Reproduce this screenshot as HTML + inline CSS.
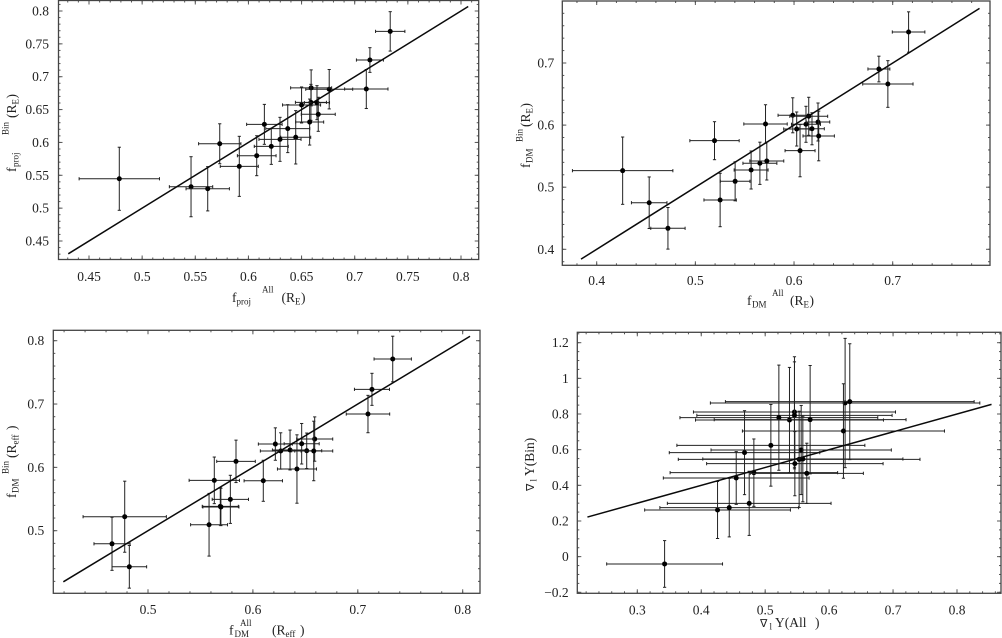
<!DOCTYPE html>
<html>
<head>
<meta charset="utf-8">
<title>Bin vs All comparison panels</title>
<style>
html,body{margin:0;padding:0;background:#fff;}
#figure{display:block;width:1002px;height:638px;background:#fff;}
text{font-family:"Liberation Serif","DejaVu Serif",serif;fill:#222;font-size:13.5px;}
.s{font-size:9px;}
.frame{fill:none;stroke:#444;stroke-width:1.3;}
.tick{stroke:#555;stroke-width:1;}
.err{stroke:#222;stroke-width:1;fill:none;}
.pt{fill:#000;}
.fit{stroke:#0a0a0a;stroke-width:1.5;fill:none;}
</style>
</head>
<body>
<svg id="figure" xmlns="http://www.w3.org/2000/svg" width="1002" height="638" viewBox="0 0 1002 638">
  <rect x="0" y="0" width="1002" height="638" fill="#fff"/>

  <text><tspan x="232" y="302">f</tspan><tspan class="s" x="236.5" y="304.5">proj</tspan><tspan class="s" x="262" y="292.5">All</tspan><tspan x="281.5" y="302">(R</tspan><tspan class="s" x="295" y="304.5">E</tspan><tspan x="301" y="302">)</tspan></text>
  <g transform="translate(16,172) rotate(-90)"><text><tspan x="0" y="0">f</tspan><tspan class="s" x="5" y="2.5">proj</tspan><tspan class="s" x="37" y="-7.5">Bin</tspan><tspan x="54" y="0">(R</tspan><tspan class="s" x="67.5" y="2.5">E</tspan><tspan x="73.5" y="0">)</tspan></text></g>

  <text><tspan x="747" y="305">f</tspan><tspan class="s" x="752" y="307.5">DM</tspan><tspan class="s" x="772" y="296">All</tspan><tspan x="790" y="305">(R</tspan><tspan class="s" x="803.5" y="307.5">E</tspan><tspan x="809.5" y="305">)</tspan></text>
  <g transform="translate(530,168) rotate(-90)"><text><tspan x="0" y="0">f</tspan><tspan class="s" x="5" y="2.5">DM</tspan><tspan class="s" x="26" y="-7.5">Bin</tspan><tspan x="41" y="0">(R</tspan><tspan class="s" x="54.5" y="2.5">E</tspan><tspan x="60.5" y="0">)</tspan></text></g>

  <text><tspan x="229" y="634.5">f</tspan><tspan class="s" x="234.5" y="637">DM</tspan><tspan class="s" x="240" y="626">All</tspan><tspan x="272" y="634.5">(R</tspan><tspan class="s" x="285.5" y="637">eff</tspan><tspan x="300" y="634.5">)</tspan></text>
  <g transform="translate(16,498) rotate(-90)"><text><tspan x="0" y="0">f</tspan><tspan class="s" x="5" y="2.5">DM</tspan><tspan class="s" x="24" y="-7.5">Bin</tspan><tspan x="40" y="0">(R</tspan><tspan class="s" x="53.5" y="2.5">eff</tspan><tspan x="68" y="0">)</tspan></text></g>

  <text><tspan x="760" y="627" style="font-family:'DejaVu Sans',sans-serif;font-size:11px">∇</tspan><tspan class="s" x="769.5" y="629.5">l</tspan><tspan x="775" y="627">Y(All</tspan><tspan x="815" y="627">)</tspan></text>
  <g transform="translate(534,491) rotate(-90)"><text><tspan x="0" y="0" style="font-family:'DejaVu Sans',sans-serif;font-size:11px">∇</tspan><tspan class="s" x="9.5" y="2.5">l</tspan><tspan x="15" y="0">Y(Bin)</tspan></text></g>
</svg>

<script>
// ---- Panel 1: f_proj (R_E)
const panel1X = [0.7334,0.7143,0.7109,0.676,0.659,0.650,0.6588,0.6645,0.6657,0.6576,0.615,0.637,0.6445,0.6297,0.6215,0.6078,0.5914,0.573,0.546,0.5617,0.4785];
const panel1Y = [0.769,0.7254,0.6813,0.681,0.683,0.657,0.661,0.6605,0.6428,0.631,0.6275,0.621,0.6078,0.6047,0.594,0.5798,0.5636,0.598,0.5326,0.5295,0.5447];
const panel1XErr = [0.0138,0.0127,0.0204,0.0221,0.0193,0.0179,0.0146,0.0118,0.016,0.0132,0.0167,0.0207,0.0141,0.0198,0.016,0.0182,0.0179,0.0199,0.0204,0.0204,0.0378];
const panel1YErr = [0.030,0.0188,0.0297,0.030,0.0274,0.0274,0.0274,0.0259,0.0259,0.035,0.0304,0.0365,0.0406,0.0335,0.0274,0.0304,0.0457,0.0304,0.0457,0.0337,0.048];
const panel1XTicks = [0.45,0.5,0.55,0.6,0.65,0.7,0.75,0.8];
const panel1XLabels = ["0.45","0.5","0.55","0.6","0.65","0.7","0.75","0.8"];
const panel1YTicks = [0.45,0.5,0.55,0.6,0.65,0.7,0.75,0.8];
const panel1YLabels = ["0.45","0.5","0.55","0.6","0.65","0.7","0.75","0.8"];
const panel1Fit = [0.4305,0.8068];

// ---- Panel 2: f_DM (R_E)
const panel2X = [0.7161,0.686,0.6951,0.5711,0.5987,0.6149,0.6027,0.6121,0.6182,0.6243,0.625,0.6061,0.4263,0.4532,0.4722,0.5251,0.5403,0.5565,0.5654,0.5724,0.5194];
const panel2Y = [0.7499,0.6903,0.6662,0.6018,0.6158,0.6142,0.5937,0.6013,0.5941,0.605,0.5825,0.5588,0.5266,0.475,0.4338,0.4794,0.5095,0.5277,0.5385,0.5422,0.5749];
const panel2XErr = [0.0165,0.0111,0.0255,0.022,0.0149,0.0192,0.0132,0.0147,0.0125,0.0119,0.0159,0.0152,0.0509,0.018,0.0174,0.0164,0.015,0.0172,0.0172,0.0172,0.025];
const panel2YErr = [0.0325,0.0207,0.0376,0.031,0.0282,0.0306,0.0274,0.029,0.0258,0.0306,0.04,0.042,0.0542,0.0415,0.0335,0.043,0.0314,0.0306,0.034,0.0306,0.0306];
const panel2XTicks = [0.4,0.5,0.6,0.7];
const panel2XLabels = ["0.4","0.5","0.6","0.7"];
const panel2YTicks = [0.4,0.5,0.6,0.7];
const panel2YLabels = ["0.4","0.5","0.6","0.7"];
const panel2Fit = [0.3841,0.788];

// ---- Panel 3: f_DM (R_eff)
const panel3X = [0.7333,0.7135,0.7097,0.6589,0.6465,0.6214,0.6265,0.6354,0.6513,0.658,0.642,0.6099,0.5632,0.5839,0.5785,0.5689,0.5695,0.5582,0.4778,0.4657,0.4822];
const panel3Y = [0.7711,0.7232,0.6842,0.6447,0.6373,0.6368,0.6259,0.6274,0.6262,0.6259,0.5974,0.5788,0.5795,0.6095,0.5495,0.5384,0.5375,0.5094,0.5221,0.4793,0.443];
const panel3XErr = [0.0178,0.0167,0.0207,0.0172,0.0167,0.0162,0.0194,0.0168,0.0143,0.0181,0.0186,0.0183,0.024,0.0184,0.0173,0.0172,0.0172,0.0176,0.0397,0.0172,0.0165];
const panel3YErr = [0.036,0.0253,0.0295,0.035,0.032,0.0256,0.0287,0.0315,0.028,0.047,0.054,0.0324,0.0368,0.0335,0.038,0.0295,0.0295,0.0495,0.0561,0.0419,0.0337];
const panel3XTicks = [0.5,0.6,0.7,0.8];
const panel3XLabels = ["0.5","0.6","0.7","0.8"];
const panel3YTicks = [0.5,0.6,0.7,0.8];
const panel3YLabels = ["0.5","0.6","0.7","0.8"];
const panel3Fit = [0.4193,0.807];

// ---- Panel 4: gradient Y
const panel4X = [0.3427,0.4255,0.4438,0.4547,0.4677,0.4823,0.475,0.5089,0.625,0.6323,0.5458,0.5458,0.5214,0.538,0.5703,0.6224,0.5563,0.5531,0.5589,0.5464,0.5651];
const panel4Y = [-0.041,0.2617,0.2748,0.4411,0.5832,0.471,0.299,0.6243,0.8617,0.8692,0.8112,0.7925,0.7794,0.7664,0.7682,0.7047,0.5981,0.5458,0.5477,0.5215,0.4673];
const panel4XErr = [0.0906,0.114,0.1085,0.114,0.1177,0.131,0.128,0.147,0.2107,0.1945,0.158,0.1527,0.1547,0.147,0.15,0.158,0.141,0.189,0.1565,0.138,0.0885];
const panel4YErr = [0.131,0.16,0.164,0.148,0.2355,0.189,0.18,0.229,0.3626,0.325,0.31,0.30,0.295,0.295,0.304,0.265,0.25,0.27,0.24,0.18,0.169];
const panel4XTicks = [0.3,0.4,0.5,0.6,0.7,0.8];
const panel4XLabels = ["0.3","0.4","0.5","0.6","0.7","0.8"];
const panel4YTicks = [-0.2,0,0.2,0.4,0.6,0.8,1,1.2];
const panel4YLabels = ["−0.2","0","0.2","0.4","0.6","0.8","1","1.2"];
const panel4Fit = [0.222,0.854];

const SVGNS = "http://www.w3.org/2000/svg";
const svg = document.getElementById("figure");

function scale(d0, d1, p0, p1) {
  return function (v) { return p0 + (v - d0) * (p1 - p0) / (d1 - d0); };
}
function invert(d0, d1, p0, p1) {
  return function (p) { return d0 + (p - p0) * (d1 - d0) / (p1 - p0); };
}
function segment(parent, x1, y1, x2, y2, cls) {
  const el = document.createElementNS(SVGNS, "line");
  el.setAttribute("x1", x1);
  el.setAttribute("y1", y1);
  el.setAttribute("x2", x2);
  el.setAttribute("y2", y2);
  el.setAttribute("class", cls);
  parent.appendChild(el);
  return el;
}

function drawPanel(p) {
  const x = scale(p.xa, p.xb, p.xpa, p.xpb);
  const y = scale(p.ya, p.yb, p.ypa, p.ypb);
  const ix = invert(p.xa, p.xb, p.xpa, p.xpb);
  const iy = invert(p.ya, p.yb, p.ypa, p.ypb);
  const g = document.createElementNS(SVGNS, "g");
  
  
  svg.appendChild(g);

  // minor ticks on all four sides
  const ticks = document.createElementNS(SVGNS, "g");
  
  
  g.appendChild(ticks);
  const xStart = Math.ceil(ix(p.left) / p.xMinor - 1e-9);
  const xEnd = Math.floor(ix(p.right) / p.xMinor + 1e-9);
  for (let i = xStart; i <= xEnd; i++) {
    const px = x(i * p.xMinor);
    segment(ticks, px, p.bottom, px, p.bottom - 2, "tick");
    segment(ticks, px, p.top, px, p.top + 2, "tick");
  }
  const yStart = Math.ceil(iy(p.bottom) / p.yMinor - 1e-9);
  const yEnd = Math.floor(iy(p.top) / p.yMinor + 1e-9);
  for (let i = yStart; i <= yEnd; i++) {
    const py = y(i * p.yMinor);
    segment(ticks, p.left, py, p.left + 2, py, "tick");
    segment(ticks, p.right, py, p.right - 2, py, "tick");
  }
  // major ticks + labels
  p.xTicks.forEach(function (v, i) {
    const px = x(v);
    segment(ticks, px, p.bottom, px, p.bottom - 4, "tick");
    segment(ticks, px, p.top, px, p.top + 4, "tick");
    const t = document.createElementNS(SVGNS, "text");
    t.setAttribute("x", px);
    t.setAttribute("y", p.xLabelY);
    t.setAttribute("text-anchor", "middle");
    
    
    t.textContent = p.xLabels[i];
    g.appendChild(t);
  });
  p.yTicks.forEach(function (v, i) {
    const py = y(v);
    segment(ticks, p.left, py, p.left + 4, py, "tick");
    segment(ticks, p.right, py, p.right - 4, py, "tick");
    const t = document.createElementNS(SVGNS, "text");
    t.setAttribute("x", p.yLabelX);
    t.setAttribute("y", py + 4.5);
    t.setAttribute("text-anchor", "end");
    
    
    t.textContent = p.yLabels[i];
    g.appendChild(t);
  });

  // plot frame
  const frame = document.createElementNS(SVGNS, "rect");
  frame.setAttribute("x", p.left);
  frame.setAttribute("y", p.top);
  frame.setAttribute("width", p.right - p.left);
  frame.setAttribute("height", p.bottom - p.top);
  frame.setAttribute("class", "frame");
  
  
  g.appendChild(frame);

  // error bars and points
  p.xs.forEach(function (v, i) {
    const cx = x(v);
    const cy = y(p.ys[i]);
    const x0 = x(v - p.xe[i]);
    const x1 = x(v + p.xe[i]);
    const y0 = y(p.ys[i] - p.ye[i]);
    const y1 = y(p.ys[i] + p.ye[i]);
    const bar = document.createElementNS(SVGNS, "g");
    
    
    g.appendChild(bar);
    segment(bar, x0, cy, x1, cy, "err");
    segment(bar, x0, cy - 1.6, x0, cy + 1.6, "err");
    segment(bar, x1, cy - 1.6, x1, cy + 1.6, "err");
    segment(bar, cx, y0, cx, y1, "err");
    segment(bar, cx - 1.6, y0, cx + 1.6, y0, "err");
    segment(bar, cx - 1.6, y1, cx + 1.6, y1, "err");
    const c = document.createElementNS(SVGNS, "circle");
    c.setAttribute("cx", cx);
    c.setAttribute("cy", cy);
    c.setAttribute("r", 2.5);
    c.setAttribute("class", "pt");
    
    
    g.appendChild(c);
  });

  // one-to-one reference line
  const fit = segment(g, x(p.fit[0]), y(p.fit[0]), x(p.fit[1]), y(p.fit[1]), "fit");
  
  
}

drawPanel({name:"panel1", left:58.5, right:478.7, top:0.5, bottom:259.5,
  xa:0.45, xb:0.8, xpa:89, xpb:461, ya:0.45, yb:0.8, ypa:241, ypb:11,
  xMinor:0.01, yMinor:0.01, xLabelY:281, yLabelX:49,
  xs:panel1X, ys:panel1Y, xe:panel1XErr, ye:panel1YErr,
  xTicks:panel1XTicks, xLabels:panel1XLabels, yTicks:panel1YTicks, yLabels:panel1YLabels, fit:panel1Fit});

drawPanel({name:"panel2", left:562.3, right:990, top:1, bottom:265.3,
  xa:0.4, xb:0.7, xpa:596.7, xpb:892.7, ya:0.4, yb:0.7, ypa:249.3, ypb:63,
  xMinor:0.02, yMinor:0.02, xLabelY:285, yLabelX:554.3,
  xs:panel2X, ys:panel2Y, xe:panel2XErr, ye:panel2YErr,
  xTicks:panel2XTicks, xLabels:panel2XLabels, yTicks:panel2YTicks, yLabels:panel2YLabels, fit:panel2Fit});

drawPanel({name:"panel3", left:53.3, right:480, top:330.3, bottom:593.3,
  xa:0.5, xb:0.8, xpa:148, xpb:462.7, ya:0.5, yb:0.8, ypa:530.7, ypb:340.7,
  xMinor:0.02, yMinor:0.02, xLabelY:614, yLabelX:44.3,
  xs:panel3X, ys:panel3Y, xe:panel3XErr, ye:panel3YErr,
  xTicks:panel3XTicks, xLabels:panel3XLabels, yTicks:panel3YTicks, yLabels:panel3YLabels, fit:panel3Fit});

drawPanel({name:"panel4", left:577.3, right:1001, top:332.3, bottom:593.3,
  xa:0.3, xb:0.8, xpa:637.3, xpb:957, ya:-0.2, yb:1.2, ypa:592.3, ypb:342.7,
  xMinor:0.02, yMinor:0.05, xLabelY:614.3, yLabelX:568.7,
  xs:panel4X, ys:panel4Y, xe:panel4XErr, ye:panel4YErr,
  xTicks:panel4XTicks, xLabels:panel4XLabels, yTicks:panel4YTicks, yLabels:panel4YLabels, fit:panel4Fit});
</script>
</body>
</html>
